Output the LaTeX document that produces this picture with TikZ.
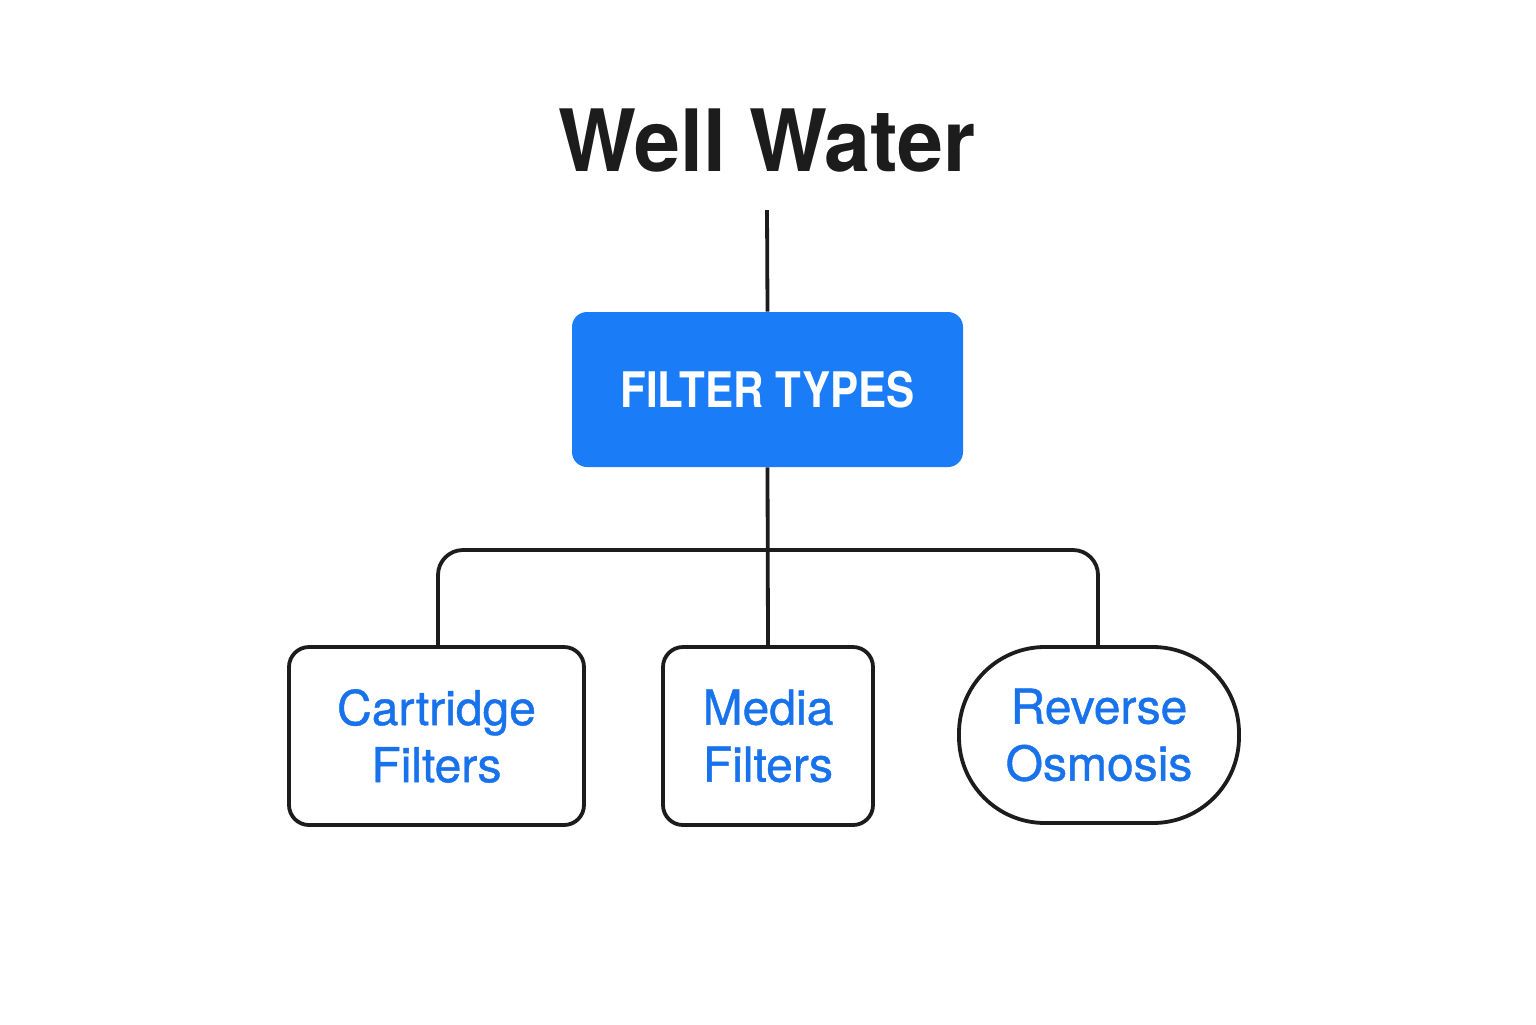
\documentclass[tikz,border=0pt]{standalone}
\usepackage{fontspec}
\setmainfont{TeX Gyre Heros}
\newfontfamily\titlefont{TeX Gyre Heros}[FakeStretch=0.96]
\newfontfamily\condfont{TeX Gyre Heros}[FakeStretch=0.86]
\newfontfamily\labelfont{TeX Gyre Heros}[FakeBold=0.9]
\definecolor{boxblue}{RGB}{27,124,247}
\definecolor{textblue}{RGB}{24,114,236}
\definecolor{ink}{RGB}{28,28,28}
\tikzset{
  conn/.style={draw=ink, line width=1.9pt},
  leaf/.style={draw=ink, line width=1.9pt, fill=white, rounded corners=10pt,
    text=textblue, align=center, font=\labelfont\fontsize{24}{28.5}\selectfont,
    inner sep=0pt, minimum height=89pt},
  hub/.style={fill=boxblue, rounded corners=7.5pt, text=white,
    font=\condfont\bfseries\fontsize{24.5}{28}\selectfont,
    minimum width=195.5pt, minimum height=77.5pt, inner sep=0pt},
}
\begin{document}
\begin{tikzpicture}[x=0.5pt, y=-0.5pt]
\useasboundingbox[fill=white] (0,0) rectangle (1536,1024);
\node[font=\titlefont\bfseries\fontsize{43}{50}\selectfont, text=ink, anchor=base] (title) at (767,171) {Well Water};
\coordinate (top) at (767,210);
\node[hub] (ft) at (767.5,389.5) {FILTER TYPES};
\node[leaf, minimum width=147.5pt] (c1) at (436.5,736) {Cartridge\\Filters};
\node[leaf, minimum width=105pt] (c2) at (768,736) {Media\\Filters};
\node[leaf, minimum width=140pt, minimum height=88pt, rounded corners=43pt] (c3) at (1099,735) {Reverse\\Osmosis};
\coordinate (j) at (767,550);
\draw[conn] (top) -- (ft.north);
\draw[conn] (ft.south) -- (c2.north);
\draw[conn, rounded corners=12.5pt] (c1.north -| 438,0) |- (j) -| (c3.north -| 1098,0);
\end{tikzpicture}
\end{document}
